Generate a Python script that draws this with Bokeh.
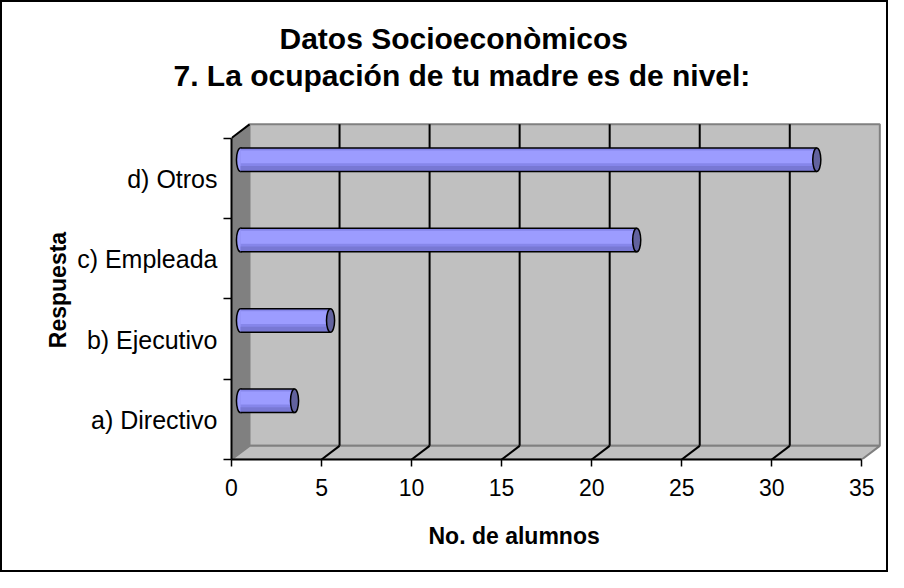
from bokeh.plotting import figure
from bokeh.layouts import column
from bokeh.models import Range1d, LinearAxis, FixedTicker, Title, ColumnDataSource
from bokeh.embed import file_html
from bokeh.resources import INLINE

# ---- data ----
categories = ["a) Directivo", "b) Ejecutivo", "c) Empleada", "d) Otros"]
values = [3, 5, 22, 32]
x_ticks = [0, 5, 10, 15, 20, 25, 30, 35]
title_line1 = "Datos Socioeconòmicos"
title_line2 = "7. La ocupación de tu madre es de nivel:"
x_title = "No. de alumnos"
y_title = "Respuesta"

# ---- geometry (style) ----
XMAX = 35
DX, DY = 1.0, 0.17          # 3-D depth offset in data units
BAR_X0, BAR_DY, BAR_H = 0.5, 0.23, 0.293
CAP_W = 0.45
LABEL_SHIFT = -0.01
FONT = "Liberation Sans"

p = figure(width=884, height=568, output_backend="svg", toolbar_location=None,
           x_range=Range1d(0, 36.26), y_range=Range1d(0, 4.218),
           x_axis_location=None, y_axis_location=None,
           min_border_left=229, min_border_right=2, min_border_top=118, min_border_bottom=110)
p.grid.visible = False
p.outline_line_color = None
p.background_fill_color = "white"
p.border_fill_color = "white"

ncat = len(categories)
# back wall, side wall, floor
p.patch([DX, XMAX + DX, XMAX + DX, DX], [DY, DY, ncat + DY, ncat + DY],
        fill_color="#C0C0C0", line_color="#808080", line_width=2)
p.patch([0, DX, DX, 0], [0, DY, ncat + DY, ncat],
        fill_color="#808080", line_color="#808080", line_width=1)
p.patch([0, XMAX, XMAX + DX, DX], [0, 0, DY, DY],
        fill_color="#C0C0C0", line_color="#808080", line_width=2)
# gridlines on back wall and floor diagonals
inner = [t for t in x_ticks if 0 < t < XMAX]
p.segment(x0=[t + DX for t in inner], y0=[DY] * len(inner),
          x1=[t + DX for t in inner], y1=[ncat + DY] * len(inner),
          line_color="black", line_width=2)
p.segment(x0=inner, y0=[0] * len(inner),
          x1=[t + DX for t in inner], y1=[DY] * len(inner),
          line_color="black", line_width=2)
p.segment(x0=[0], y0=[ncat], x1=[DX], y1=[ncat + DY], line_color="black", line_width=2)

# bars (cylinders)
yc = [i + 0.5 + BAR_DY for i in range(ncat)]
src = ColumnDataSource(dict(
    y=yc, left=[BAR_X0] * ncat, right=[v + BAR_X0 for v in values],
    ytop=[y + BAR_H / 2 for y in yc], ybot=[y - BAR_H / 2 for y in yc],
    yhi=[y + BAR_H * 0.12 for y in yc], ylo=[y - BAR_H * 0.37 for y in yc],
))
p.ellipse(x="left", y="y", width=CAP_W, height=BAR_H, source=src,
          fill_color="#9A9AFC", line_color="black", line_width=1.5)
p.hbar(y="y", left="left", right="right", height=BAR_H, source=src,
       fill_color="#8686EA", line_color=None)
p.hbar(y="yhi", left="left", right="right", height=BAR_H * 0.55, source=src,
       fill_color="#9C9CFF", line_color=None)
p.hbar(y="ylo", left="left", right="right", height=BAR_H * 0.2, source=src,
       fill_color="#7878D4", line_color=None)
p.segment(x0="left", y0="ytop", x1="right", y1="ytop", source=src, line_color="black", line_width=1.5)
p.segment(x0="left", y0="ybot", x1="right", y1="ybot", source=src, line_color="black", line_width=1.5)
p.ellipse(x="right", y="y", width=CAP_W, height=BAR_H, source=src,
          fill_color="#62629E", line_color="black", line_width=1.5)

# axes
xa = LinearAxis(ticker=FixedTicker(ticks=x_ticks), bounds=(0, XMAX),
                major_tick_out=7, major_tick_in=0, minor_tick_out=0, minor_tick_in=0,
                axis_line_width=2, axis_line_color="black", major_tick_line_width=1.5,
                major_label_standoff=12,
                major_label_text_font=FONT, major_label_text_font_size="23px",
                major_label_text_color="black")
p.add_layout(xa, "below")

label_pos = [i + 0.5 + LABEL_SHIFT for i in range(ncat)]
ya = LinearAxis(ticker=FixedTicker(ticks=label_pos, minor_ticks=list(range(ncat + 1))),
                bounds=(0, ncat),
                major_label_overrides={pos: c for pos, c in zip(label_pos, categories)},
                major_tick_out=0, major_tick_in=0, minor_tick_out=8, minor_tick_in=0,
                minor_tick_line_color="black", minor_tick_line_width=1.5,
                axis_line_width=2, axis_line_color="black",
                major_label_standoff=6,
                major_label_text_font=FONT, major_label_text_font_size="25px",
                major_label_text_color="black",
                axis_label=y_title, axis_label_standoff=3,
                axis_label_text_font=FONT, axis_label_text_font_size="23px",
                axis_label_text_font_style="bold", axis_label_text_color="black")
p.add_layout(ya, "left")

xt = Title(text=x_title, align="left", offset=197, standoff=44,
           text_font=FONT, text_font_size="23px", text_font_style="bold", text_color="black")
p.add_layout(xt, "below")

# chart titles (stacked above the frame; a blank spacer keeps the gap to the plot)
spacer = Title(text=" ", text_font_size="1px", standoff=24)
t2 = Title(text=title_line2, align="left", offset=-58, standoff=4,
           text_font=FONT, text_font_size="30px", text_font_style="bold", text_color="black")
t1 = Title(text=title_line1, align="left", offset=48, standoff=0,
           text_font=FONT, text_font_size="30px", text_font_style="bold", text_color="black")
p.add_layout(spacer, "above")
p.add_layout(t2, "above")
p.add_layout(t1, "above")

layout = column(p, spacing=0, styles={"border": "2px solid black", "background": "white"})
open("out.html", "w").write(file_html(layout, INLINE))
